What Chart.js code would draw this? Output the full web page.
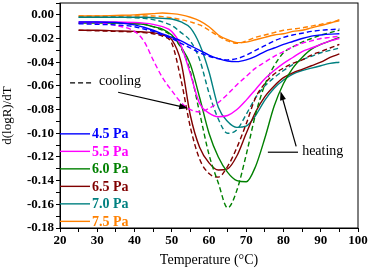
<!DOCTYPE html>
<html>
<head>
<meta charset="utf-8">
<script src="https://cdn.jsdelivr.net/npm/chart.js@4"></script>
<style>
  body { margin: 0; background: #fff; }
</style>
</head>
<body>
<canvas id="myChart" width="373" height="269"></canvas>
<script>
const temps = [25, 30, 35, 40, 42.5, 45, 47.5, 50, 52.5, 55, 57.5, 60, 62.5, 65, 67.5, 70, 72.5, 75, 77.5, 80, 82.5, 85, 87.5, 90, 92.5, 95];
const pressures = ["4.5 Pa", "5.5 Pa", "6.0 Pa", "6.5 Pa", "7.0 Pa", "7.5 Pa"];
const colors = ["#0000ff", "#ff00ff", "#008000", "#800000", "#008080", "#ff8000"];

// heating (solid)
const heat45 = [-0.006, -0.006, -0.0065, -0.0085, -0.0105, -0.013, -0.016, -0.019, -0.022, -0.026, -0.030, -0.034, -0.037, -0.039, -0.0395, -0.038, -0.035, -0.031, -0.028, -0.025, -0.0225, -0.020, -0.018, -0.017, -0.0163, -0.016];
const heat55 = [-0.006, -0.006, -0.006, -0.0065, -0.007, -0.008, -0.010, -0.014, -0.026, -0.050, -0.075, -0.083, -0.086, -0.085, -0.080, -0.072, -0.063, -0.054, -0.047, -0.041, -0.036, -0.031, -0.028, -0.025, -0.022, -0.020];
const heat60 = [-0.007, -0.007, -0.007, -0.0075, -0.008, -0.010, -0.012, -0.017, -0.027, -0.042, -0.070, -0.100, -0.120, -0.133, -0.140, -0.141, -0.128, -0.104, -0.077, -0.058, -0.045, -0.036, -0.029, -0.025, -0.022, -0.019];
const heat65 = [-0.013, -0.013, -0.0135, -0.014, -0.0145, -0.015, -0.017, -0.021, -0.040, -0.085, -0.112, -0.125, -0.131, -0.130, -0.119, -0.100, -0.082, -0.069, -0.060, -0.053, -0.049, -0.046, -0.043, -0.040, -0.036, -0.033];
const heat70 = [-0.002, -0.002, -0.002, -0.002, -0.002, -0.0025, -0.003, -0.0035, -0.006, -0.011, -0.025, -0.048, -0.078, -0.090, -0.095, -0.094, -0.085, -0.072, -0.062, -0.055, -0.050, -0.047, -0.045, -0.043, -0.041, -0.040];
const heat75 = [-0.001, -0.001, -0.0005, 0.000, 0.0005, 0.001, 0.0015, 0.001, 0.000, -0.002, -0.005, -0.010, -0.017, -0.021, -0.0235, -0.023, -0.021, -0.019, -0.017, -0.016, -0.014, -0.013, -0.011, -0.009, -0.007, -0.004];

// cooling (dashed)
const cool45 = [-0.0075, -0.008, -0.0085, -0.010, -0.012, -0.014, -0.017, -0.020, -0.024, -0.028, -0.032, -0.035, -0.037, -0.038, -0.037, -0.034, -0.030, -0.026, -0.022, -0.019, -0.017, -0.0155, -0.014, -0.013, -0.0125, -0.012];
const cool55 = [-0.007, -0.007, -0.009, -0.014, -0.022, -0.038, -0.053, -0.064, -0.074, -0.080, -0.082, -0.079, -0.074, -0.067, -0.059, -0.052, -0.045, -0.040, -0.035, -0.031, -0.027, -0.024, -0.022, -0.020, -0.019, -0.018];
const cool60 = [-0.007, -0.007, -0.007, -0.0075, -0.008, -0.010, -0.013, -0.018, -0.028, -0.048, -0.083, -0.118, -0.142, -0.163, -0.148, -0.118, -0.084, -0.059, -0.043, -0.032, -0.027, -0.023, -0.020, -0.017, -0.015, -0.013];
const cool65 = [-0.013, -0.0135, -0.014, -0.0145, -0.015, -0.016, -0.018, -0.024, -0.055, -0.095, -0.122, -0.134, -0.137, -0.128, -0.112, -0.092, -0.070, -0.058, -0.050, -0.045, -0.041, -0.038, -0.034, -0.031, -0.028, -0.025];
const cool70 = [-0.002, -0.002, -0.002, -0.0025, -0.003, -0.004, -0.006, -0.009, -0.015, -0.022, -0.038, -0.066, -0.088, -0.100, -0.097, -0.084, -0.070, -0.060, -0.053, -0.047, -0.042, -0.038, -0.035, -0.032, -0.030, -0.028];
const cool75 = [-0.001, -0.001, -0.001, -0.001, -0.001, -0.001, -0.0015, -0.0025, -0.004, -0.006, -0.0085, -0.013, -0.018, -0.022, -0.024, -0.022, -0.019, -0.017, -0.015, -0.013, -0.012, -0.011, -0.0095, -0.008, -0.0065, -0.005];

const heating = [heat45, heat55, heat60, heat65, heat70, heat75];
const cooling = [cool45, cool55, cool60, cool65, cool70, cool75];

const serif = '"Liberation Serif", "Times New Roman", serif';

function points(values) {
  return temps.map((t, i) => ({ x: t, y: values[i] }));
}

const datasets = [];
pressures.forEach((p, i) => {
  datasets.push({
    label: p + " cooling",
    data: points(cooling[i]),
    borderColor: colors[i],
    borderWidth: 1.4,
    borderDash: [5, 3],
  });
  datasets.push({
    label: p + " heating",
    data: points(heating[i]),
    borderColor: colors[i],
    borderWidth: 1.4,
  });
});

function arrow(ctx, x1, y1, x2, y2) {
  const a = Math.atan2(y2 - y1, x2 - x1);
  ctx.beginPath();
  ctx.moveTo(x1, y1);
  ctx.lineTo(x2 - 6 * Math.cos(a), y2 - 6 * Math.sin(a));
  ctx.stroke();
  ctx.beginPath();
  ctx.moveTo(x2, y2);
  ctx.lineTo(x2 - 9 * Math.cos(a) + 3 * Math.sin(a), y2 - 9 * Math.sin(a) - 3 * Math.cos(a));
  ctx.lineTo(x2 - 9 * Math.cos(a) - 3 * Math.sin(a), y2 - 9 * Math.sin(a) + 3 * Math.cos(a));
  ctx.closePath();
  ctx.fill();
}

const extras = {
  id: "extras",
  afterDraw(chart) {
    const { ctx, chartArea } = chart;
    const xs = chart.scales.x, ys = chart.scales.y;
    const X = v => xs.getPixelForValue(v), Y = v => ys.getPixelForValue(v);
    ctx.save();
    // frame
    ctx.strokeStyle = "#000";
    ctx.lineWidth = 1;
    ctx.strokeRect(chartArea.left, chartArea.top, chartArea.right - chartArea.left, chartArea.bottom - chartArea.top);

    // legend
    ctx.font = "bold 14px " + serif;
    ctx.textBaseline = "middle";
    pressures.forEach((p, i) => {
      const y = Y(-0.1005) + i * 17.5;
      ctx.strokeStyle = colors[i];
      ctx.lineWidth = 1.4;
      ctx.beginPath();
      ctx.moveTo(chartArea.left, y);
      ctx.lineTo(chartArea.left + 30, y);
      ctx.stroke();
      ctx.fillStyle = colors[i];
      ctx.fillText(p, chartArea.left + 32, y + 1);
    });

    // annotations
    ctx.strokeStyle = "#000";
    ctx.fillStyle = "#000";
    ctx.lineWidth = 1.2;
    ctx.font = "14px " + serif;
    ctx.setLineDash([5, 3]);
    ctx.beginPath();
    ctx.moveTo(X(22.7), Y(-0.0574));
    ctx.lineTo(X(28.9), Y(-0.0574));
    ctx.stroke();
    ctx.setLineDash([]);
    ctx.fillText("cooling", X(30.5), Y(-0.0574) - 1);
    arrow(ctx, X(35.6), Y(-0.0654), X(54.4), Y(-0.0789));

    ctx.beginPath();
    ctx.moveTo(X(75.8), Y(-0.116));
    ctx.lineTo(X(83.9), Y(-0.116));
    ctx.stroke();
    ctx.fillText("heating", X(85), Y(-0.116) - 1);
    arrow(ctx, X(83.4), Y(-0.111), X(79.2), Y(-0.0645));
    ctx.restore();
  }
};

new Chart(document.getElementById("myChart"), {
  type: "line",
  data: { datasets: datasets },
  options: {
    responsive: false,
    animation: false,
    layout: { padding: { top: 3, right: 15 } },
    elements: {
      point: { radius: 0 },
      line: { cubicInterpolationMode: "monotone", fill: false },
    },
    plugins: { legend: { display: false }, tooltip: { enabled: false } },
    scales: {
      x: {
        type: "linear",
        min: 20,
        max: 100,
        afterFit(scale) { scale.height = 41; scale.paddingLeft = 0; scale.paddingRight = 0; },
        grid: { drawOnChartArea: false, color: "#000", tickLength: 4 },
        border: { color: "#000" },
        ticks: {
          stepSize: 5,
          autoSkip: false,
          maxRotation: 0,
          padding: 1,
          color: "#000",
          font: { family: serif, size: 13, weight: "bold" },
          callback: v => (v % 10 === 0 ? String(v) : ""),
        },
        title: {
          display: true,
          text: "Temperature (°C)",
          color: "#000",
          padding: 0,
          font: { family: serif, size: 14 },
        },
      },
      y: {
        min: -0.18,
        max: 0.01,
        afterFit(scale) { scale.width = 60; scale.paddingTop = 0; scale.paddingBottom = 0; },
        grid: { drawOnChartArea: false, color: "#000", tickLength: 4 },
        border: { color: "#000" },
        ticks: {
          stepSize: 0.01,
          autoSkip: false,
          padding: 2,
          color: "#000",
          font: { family: serif, size: 13, weight: "bold" },
          callback: v => {
            const r = Math.round(v * 100);
            if (r > 0 || r % 2 !== 0) return "";
            return (r / 100).toFixed(2);
          },
        },
        title: {
          display: true,
          text: "d(logR)/dT",
          color: "#000",
          padding: 0,
          font: { family: serif, size: 13 },
        },
      },
    },
  },
  plugins: [extras],
});
</script>
</body>
</html>
